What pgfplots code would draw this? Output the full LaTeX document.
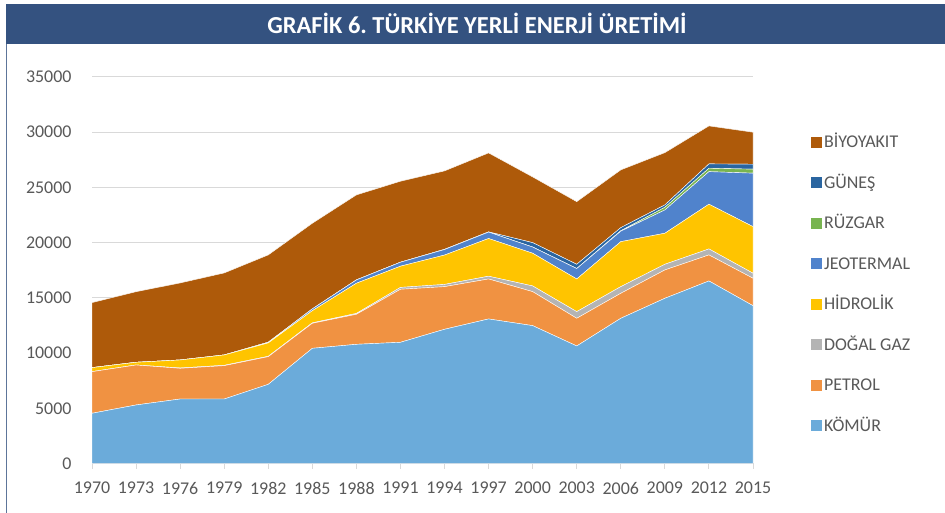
\documentclass[border=0pt]{standalone}
\usepackage{pgfplots}
\pgfplotsset{compat=1.18}
\usepackage{pgfplotstable}
\usepackage{fontspec}
\setmainfont{Carlito}
\definecolor{cKomur}{HTML}{6BABDA}
\definecolor{cPetrol}{HTML}{F09242}
\definecolor{cGaz}{HTML}{B4B4B4}
\definecolor{cHidro}{HTML}{FFC400}
\definecolor{cJeo}{HTML}{5083CC}
\definecolor{cRuz}{HTML}{78B450}
\definecolor{cGun}{HTML}{2A65A0}
\definecolor{cBiyo}{HTML}{AE5A0A}
\definecolor{cTitle}{HTML}{345280}
\definecolor{cText}{HTML}{595959}
\definecolor{cGrid}{HTML}{D9D9D9}

\pgfplotstableread{
year K P G H J R Gu B
1970 4547 3770 0 363 0 0 0 5890
1973 5300 3620 0 244 0 0 0 6394
1976 5840 2780 30 725 0 0 0 6975
1979 5842 3018 30 938 0 0 0 7427
1982 7170 2507 30 1210 60 0 0 7910
1985 10431 2266 40 1100 160 0 0 7757
1988 10793 2719 80 2730 300 0 0 7700
1991 10976 4800 170 1920 360 0 0 7335
1994 12154 3862 200 2660 500 0 20 7100
1997 13090 3620 250 3414 580 0 20 7150
2000 12485 3078 514 2963 560 0 400 5950
2003 10643 2507 600 2960 940 5 385 5670
2006 13150 2265 600 4074 950 40 280 5230
2009 14960 2567 513 2810 2110 240 215 4735
2012 16530 2356 544 4050 2950 310 390 3440
2015 14290 2485 455 4220 4840 360 450 2900
}\datatable

\begin{document}
\begin{tikzpicture}
\useasboundingbox (0,0) rectangle (945bp,513bp);
\fill[white] (0,0) rectangle (945bp,513bp);
\fill[cTitle] (6bp,469bp) rectangle (945bp,509bp);
\draw[cTitle!80!white, line width=1bp] (6bp,0) -- (6bp,469bp);
\node[text=white, font=\fontsize{24.5}{28}\selectfont\bfseries] at (477bp,490bp) {GRAFİK 6.\ TÜRKİYE YERLİ ENERJİ ÜRETİMİ};
\begin{axis}[
  at={(92bp,49.5bp)}, anchor=origin,
  scale only axis, width=661bp, height=386.5bp,
  xmin=1970, xmax=2015, ymin=0, ymax=35000,
  stack plots=y,
  axis lines*=left,
  y axis line style={draw=none},
  x axis line style={draw=cGrid, line width=1bp},
  xtick=data,
  ytick={0,5000,...,35000},
  scaled y ticks=false,
  ymajorgrids,
  grid style={draw=cGrid, line width=1bp},
  xtick style={draw=cGrid, line width=1bp},
  ytick style={draw=none},
  major tick length=5bp,
  tick align=outside,
  /pgf/number format/1000 sep={},
  /pgf/number format/assume math mode=true,
  tick label style={font=\fontsize{18}{21}\selectfont, text=cText},
  yticklabel style={xshift=-12bp},
  xticklabel style={yshift=-10bp},
  clip=false,
  legend style={draw=none, fill=none, at={(1.083,0.858)}, anchor=north west,
    font=\fontsize{18}{21}\selectfont, text=cText,
    nodes={text height=12.5bp, text depth=2bp, inner sep=1bp},
    row sep=24bp, cells={anchor=west}},
  reverse legend,
  legend image code/.code={\fill[#1,draw=none] (0bp,-5.5bp) rectangle (11bp,5.5bp);},
  every axis plot/.append style={draw=white, line width=0.4bp},
]
\addplot[fill=cKomur, draw=white] table[x=year,y=K]{\datatable} \closedcycle;
\addlegendentry{\hspace{1bp}KÖMÜR}
\addplot[fill=cPetrol, draw=white] table[x=year,y=P]{\datatable} \closedcycle;
\addlegendentry{\hspace{1bp}PETROL}
\addplot[fill=cGaz, draw=white] table[x=year,y=G]{\datatable} \closedcycle;
\addlegendentry{\hspace{1bp}DOĞAL GAZ}
\addplot[fill=cHidro, draw=white] table[x=year,y=H]{\datatable} \closedcycle;
\addlegendentry{\hspace{1bp}HİDROLİK}
\addplot[fill=cJeo, draw=white] table[x=year,y=J]{\datatable} \closedcycle;
\addlegendentry{\hspace{1bp}JEOTERMAL}
\addplot[fill=cRuz, draw=white] table[x=year,y=R]{\datatable} \closedcycle;
\addlegendentry{\hspace{1bp}RÜZGAR}
\addplot[fill=cGun, draw=white] table[x=year,y=Gu]{\datatable} \closedcycle;
\addlegendentry{\hspace{1bp}GÜNEŞ}
\addplot[fill=cBiyo, draw=white] table[x=year,y=B]{\datatable} \closedcycle;
\addlegendentry{\hspace{1bp}BİYOYAKIT}
\end{axis}
\end{tikzpicture}
\end{document}
